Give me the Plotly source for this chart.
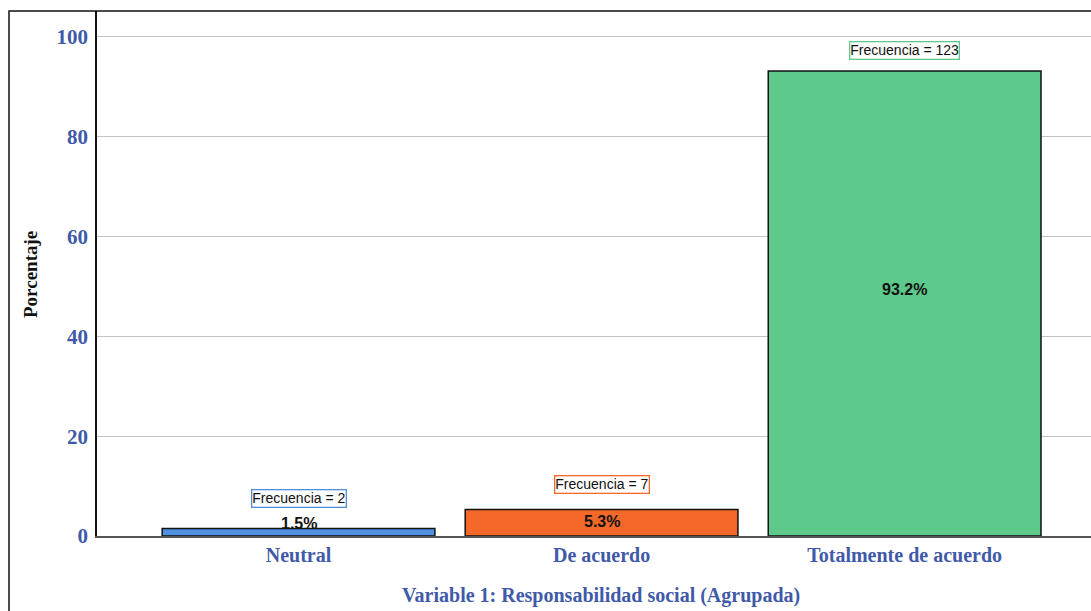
import plotly.graph_objects as go

categories = ["Neutral", "De acuerdo", "Totalmente de acuerdo"]
percentages = [1.5, 5.3, 93.2]
frequencies = [2, 7, 123]
colors = ["#4f8fdf", "#f4692a", "#5dc98b"]
y_ticks = [0, 20, 40, 60, 80, 100]

W, H = 1091, 611
L, R, T, B = 97, 0, 11, 75
blue = "#3f5aa8"
serif = "Liberation Serif, Times New Roman, serif"
sans = "Liberation Sans, Arial, sans-serif"
PW, PH = W - L - R, H - T - B

fig = go.Figure()
fig.add_trace(go.Bar(
    x=list(range(len(categories))), y=percentages, width=0.9,
    marker=dict(color=colors, line=dict(color="#111111", width=1.5)),
    hoverinfo="skip", showlegend=False,
))

freq_shift = [30, 25, 20]
annotations = []
for i, (v, f, c) in enumerate(zip(percentages, frequencies, colors)):
    annotations.append(dict(
        x=i, y=max(v * 0.53, 2.6), xref="x", yref="y", text=f"<b>{v:.1f}%</b>",
        showarrow=False, font=dict(family=sans, size=16, color="#111111"),
        yanchor="middle",
    ))
    annotations.append(dict(
        x=i, y=v, xref="x", yref="y", text=f"Frecuencia = {f}",
        showarrow=False, font=dict(family=sans, size=14, color="#111111"),
        yanchor="middle", yshift=freq_shift[i], bgcolor="white", bordercolor=c,
        borderwidth=1.3, borderpad=0,
    ))

annotations.append(dict(
    x=(601 - L) / PW, y=-(595 - 536) / PH, xref="paper", yref="paper",
    text="Variable 1: Responsabilidad social (Agrupada)", showarrow=False,
    font=dict(family=serif, size=20, color=blue, weight="bold"),
    xanchor="center", yanchor="middle",
))
annotations.append(dict(
    x=(30 - L) / PW, y=(536 - 275) / PH, xref="paper", yref="paper",
    text="Porcentaje", showarrow=False, textangle=-90,
    font=dict(family=serif, size=19, color="#111111", weight="bold"),
    xanchor="center", yanchor="middle",
))

fig.update_layout(
    width=W, height=H,
    margin=dict(l=L, r=R, t=T, b=B, pad=0),
    paper_bgcolor="white", plot_bgcolor="white",
    annotations=annotations,
    xaxis=dict(
        range=[-0.665, 2.615], tickvals=list(range(len(categories))), ticktext=categories,
        showgrid=False, zeroline=False, showline=True, linecolor="#555555", linewidth=1.5,
        ticks="", tickfont=dict(family=serif, size=20, color=blue, weight="bold"),
        ticklabelstandoff=0,
    ),
    yaxis=dict(
        range=[0, 105.2], tickvals=y_ticks, showgrid=True, gridcolor="#c4c4c4", gridwidth=1,
        zeroline=False, showline=True, linecolor="#111111", linewidth=1.5, ticks="",
        tickfont=dict(family=serif, size=21, color=blue, weight="bold"),
        ticklabelstandoff=3,
    ),
    shapes=[dict(
        type="rect", xref="paper", yref="paper",
        x0=(9 - L) / PW, x1=1.05, y0=-0.2, y1=1.0,
        line=dict(color="#111111", width=1.5), fillcolor="rgba(0,0,0,0)", layer="above",
    )],
)

fig.write_html("out.html", config={"displayModeBar": False},
               post_script="document.body.style.margin='0px';")
